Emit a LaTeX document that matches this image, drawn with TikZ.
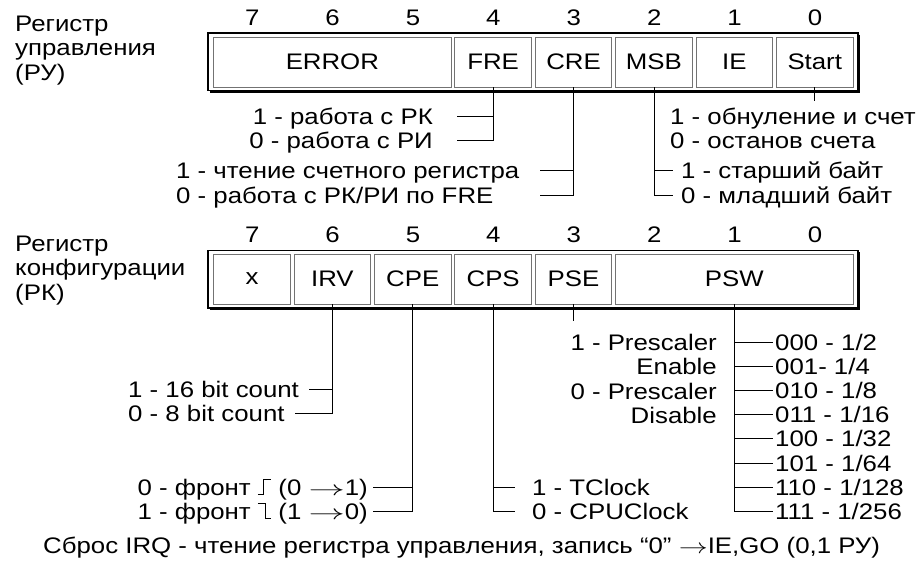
\documentclass[tikz,border=0pt]{standalone}
\usepackage{fontspec}
\setmainfont{Liberation Sans}[FakeStretch=1.147]
\usetikzlibrary{positioning}

\newcommand{\frontup}{\rule{5pt}{1.3pt}\rule{1.3pt}{16pt}\raisebox{14.7pt}{\rule{7pt}{1.3pt}}}
\newcommand{\frontdown}{\raisebox{14.7pt}{\rule{7pt}{1.3pt}}\rule{1.3pt}{16pt}\rule{5pt}{1.3pt}}
\newcommand{\arr}[1]{\scalebox{#1}[1]{$\rightarrow$}}

\tikzset{
  bitcell/.style={draw=black!55, line width=0.9pt, minimum height=50pt, inner sep=0pt},
  bitnum/.style={inner sep=0pt},
  lbl/.style={inner sep=0pt, text height=16.1pt, text depth=0pt},
  frame/.style={line width=1.6pt},
  wire/.style={line width=0.8pt}
}

\begin{document}
\begin{tikzpicture}[x=1pt,y=-1pt,font=\fontsize{22.5}{24.3}\selectfont]
\useasboundingbox (0,0) rectangle (919,565);

% register RU
\node[anchor=north west, align=left, inner sep=0pt] (ru) at (15,16) {Регистр\\управления\\(РУ)};
\draw[frame] (208,33) rectangle (858,90.5);
\draw[frame] (859.5,34.5) -- (859.5,92) -- (209.5,92);
\foreach \b in {0,...,7}
  \node[bitnum] (ru\b) at ({815-80.4*\b},18) {\b};
\foreach \name/\txt/\hi/\lo in {error/ERROR/7/5, fre/FRE/4/4, cre/CRE/3/3, msb/MSB/2/2, ie/IE/1/1, start/Start/0/0}
  \node[bitcell, minimum width={80.4*(\hi-\lo)+76.5}] (\name) at ({815-40.2*(\hi+\lo)-0.25},62) {\txt};

\node[lbl, anchor=east] (rk1) at (433,116) {1 - работа с РК};
\node[lbl, anchor=east] (ri0) at (433,140) {0 - работа с РИ};
\draw[wire] (fre.south) |- ([xshift=24pt]rk1.east);
\draw[wire] (fre.south) |- ([xshift=24pt]ri0.east);

\coordinate (crel) at (540,0);
\node[lbl, anchor=west] (cnt1) at (176,170) {1 - чтение счетного регистра};
\node[lbl, anchor=west] (cnt0) at (176,195) {0 - работа с РК/РИ по FRE};
\draw[wire] (cre.south) |- (cnt1 -| crel);
\draw[wire] (cre.south) |- (cnt0 -| crel);

\node[lbl, anchor=west] (hi1) at (681,170) {1 - старший байт};
\node[lbl, anchor=west] (lo0) at (681,195) {0 - младший байт};
\draw[wire] (msb.south) |- ([xshift=-8pt]hi1.west);
\draw[wire] (msb.south) |- ([xshift=-8pt]lo0.west);

\node[lbl, anchor=west] (go1) at (670,116) {1 - обнуление и счет};
\node[lbl, anchor=west] (go0) at (670,140) {0 - останов счета};
\draw[wire] (start.south) -- ++(0,14);

% register RK
\node[anchor=north west, align=left, inner sep=0pt] (rk) at (15,236) {Регистр\\конфигурации\\(РК)};
\draw[frame] (208,250.5) rectangle (858,308);
\draw[frame] (859.5,252) -- (859.5,309.5) -- (209.5,309.5);
\foreach \b in {0,...,7}
  \node[bitnum] (rk\b) at ({815-80.4*\b},235) {\b};
\foreach \name/\txt/\hi/\lo in {xbit/x/7/7, irv/IRV/6/6, cpe/CPE/5/5, cps/CPS/4/4, pse/PSE/3/3, psw/PSW/2/0}
  \node[bitcell, minimum width={80.4*(\hi-\lo)+76.5}] (\name) at ({815-40.2*(\hi+\lo)-0.25},279) {\txt};

\node[lbl, anchor=west] (c16) at (128,389) {1 - 16 bit count};
\node[lbl, anchor=west] (c8) at (128,413) {0 - 8 bit count};
\draw[wire] (irv.south) |- ([xshift=10pt]c16.east);
\draw[wire] (irv.south) |- ([xshift=10pt]c8.east);

\node[lbl, anchor=east] (edge0) at (368,487) {0 - фронт \frontup\ (0 \arr{1.75}1)};
\node[lbl, anchor=east] (edge1) at (368,511) {1 - фронт \frontdown\ (1 \arr{1.75}0)};
\draw[wire] (cpe.south) |- ([xshift=5pt]edge0.east);
\draw[wire] (cpe.south) |- ([xshift=5pt]edge1.east);

\node[lbl, anchor=west] (tclk) at (532,487) {1 - TClock};
\node[lbl, anchor=west] (cpuclk) at (532,511) {0 - CPUClock};
\draw[wire] (cps.south) |- ([xshift=-17pt]tclk.west);
\draw[wire] (cps.south) |- ([xshift=-17pt]cpuclk.west);

\node[anchor=north east, align=right, inner sep=0pt] (pres) at (717,334) {1 - Prescaler\\Enable\\0 - Prescaler\\Disable};
\draw[wire] (pse.south) -- ++(0,17);

\foreach \k/\txt in {0/{000 - 1/2},1/{001- 1/4},2/{010 - 1/8},3/{011 - 1/16},4/{100 - 1/32},5/{101 - 1/64},6/{110 - 1/128},7/{111 - 1/256}}{
  \node[lbl, anchor=west] (div\k) at (775,{342+24.2*\k}) {\txt};
  \draw[wire] (psw.south) |- ([xshift=-2pt]div\k.west);
}

\node[lbl, anchor=west] (irq) at (43,545) {Сброс IRQ - чтение регистра управления, запись “0” \arr{1.4}IE,GO (0,1 РУ)};
\end{tikzpicture}
\end{document}
